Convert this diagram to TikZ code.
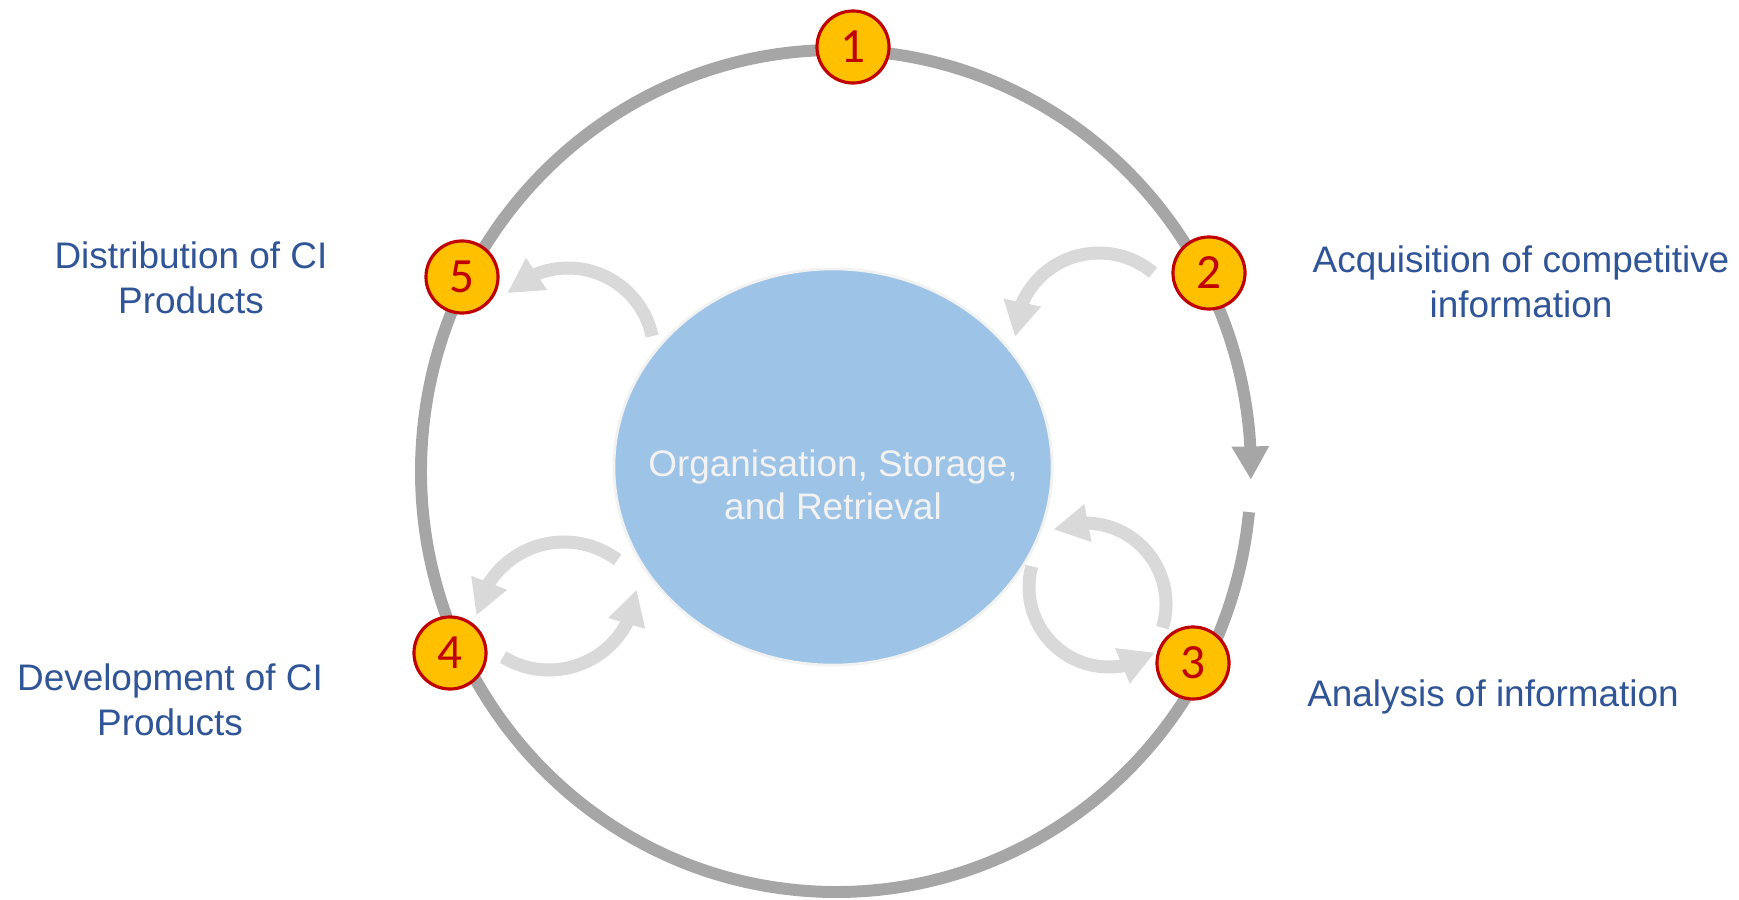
\documentclass[tikz,border=0pt]{standalone}
\usepackage{fontspec}
\setmainfont{Liberation Sans}
\newfontfamily\numfont{Carlito}
\usetikzlibrary{arrows.meta, bending, shapes.geometric, calc}
\definecolor{ringgrey}{HTML}{A6A6A6}
\definecolor{loopgrey}{HTML}{D9D9D9}
\definecolor{hubblue}{HTML}{9DC3E6}
\definecolor{hubtext}{HTML}{F2F2F2}
\definecolor{badgefill}{HTML}{FFC000}
\definecolor{badgeline}{HTML}{C00000}
\definecolor{stage}{HTML}{2F5597}
\tikzset{
  ring/.style={line width=3.4pt, ringgrey, -{Triangle[width=10pt, length=9.5pt]}},
  loop/.style={line width=3.7pt, loopgrey, -{Triangle[width=10.2pt, length=10pt]}},
  hub/.style={ellipse, draw=hubtext, line width=0.8pt, fill=hubblue,
              minimum width=4.38cm, minimum height=3.96cm, inner sep=0pt},
  hublabel/.style={align=center, inner sep=0pt, text=hubtext,
                   font=\fontsize{10.5}{12.3}\selectfont},
  badge/.style={circle, draw=badgeline, fill=badgefill, line width=0.9pt,
                minimum size=0.72cm, inner sep=0pt, text=badgeline,
                font=\numfont\fontsize{14}{14}\selectfont},
  stagelabel/.style={stage, align=center, inner sep=0pt,
                     font=\fontsize{10.5}{12.8}\selectfont},
}

\begin{document}
\begin{tikzpicture}[x=0.01cm, y=0.01cm]
  \useasboundingbox (0,0) rectangle (1739,899);

  % --- hub ---
  \node[hub] (hub) at (833,432) {};
  \node[hublabel] (hubtext) at (833,414) {Organisation, Storage,\\and Retrieval};

  % --- outer cycle ---
  \coordinate (ringc) at (836,428);
  \draw[ring] ($(ringc)+(-5.6:415 and 421)$)
    arc[start angle=-5.6, end angle=-361.2, x radius=415, y radius=421];

  % --- loops between the hub and the stages ---
  \coordinate (c2) at (1099,562);
  \coordinate (c5) at (568,545);
  \coordinate (c4a) at (564,268);
  \coordinate (c4b) at (549,317);
  \coordinate (c3a) at (1085,295);
  \coordinate (c3b) at (1109,312);
  \draw[loop] ($(c2)+(50:84)$) arc[start angle=50, end angle=180, radius=84];
  \draw[loop] ($(c5)+(12:86)$) arc[start angle=12, end angle=135, radius=86];
  \draw[loop] ($(c4a)+(53:89)$) arc[start angle=53, end angle=170, radius=89];
  \draw[loop] ($(c4b)+(238.5:88)$) arc[start angle=238.5, end angle=355, radius=88];
  \draw[loop] ($(c3a)+(-17:81)$) arc[start angle=-17, end angle=113, radius=81];
  \draw[loop] ($(c3b)+(165:80)$) arc[start angle=165, end angle=305, radius=80];

  % --- stage badges ---
  \node[badge] (s1) at (853,852) {1};
  \node[badge] (s2) at (1209,626) {2};
  \node[badge] (s3) at (1193,236) {3};
  \node[badge] (s4) at (450,246) {4};
  \node[badge] (s5) at (462,622) {5};

  % --- stage names ---
  \node[stagelabel] (t2) at (1521,617) {Acquisition of competitive\\information};
  \node[stagelabel] (t3) at (1493,202) {Analysis of information};
  \node[stagelabel] (t4) at (170,199) {Development of CI\\Products};
  \node[stagelabel] (t5) at (191,621) {Distribution of CI\\Products};

\end{tikzpicture}
\end{document}
